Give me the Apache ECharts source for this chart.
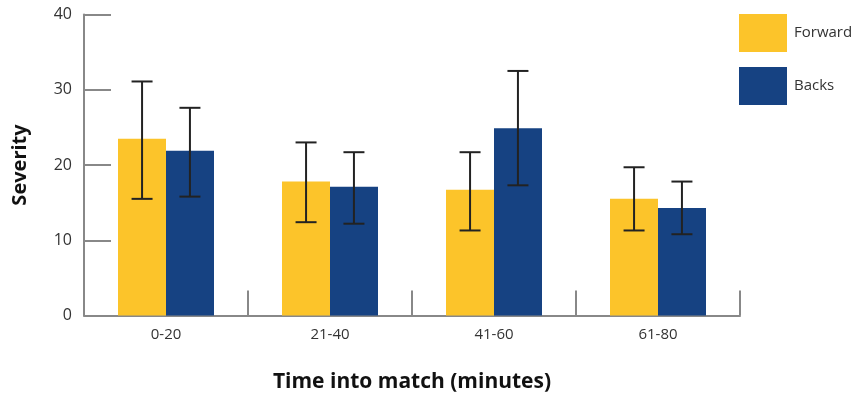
<!DOCTYPE html>
<html><head><meta charset="utf-8">
<script src="https://cdn.jsdelivr.net/npm/echarts@6/dist/echarts.min.js"></script>
<style>html,body{margin:0;padding:0;background:#fff}#c{width:857px;height:394px}</style>
</head><body><div id="c"></div>
<script>
var categories = ['0-20', '21-40', '41-60', '61-80'];
var forwardMean = [23.5, 17.8, 16.7, 15.5];
var forwardLow  = [15.5, 12.4, 11.3, 11.3];
var forwardHigh = [31.1, 23.0, 21.7, 19.7];
var backsMean = [21.9, 17.1, 24.9, 14.3];
var backsLow  = [15.8, 12.2, 17.3, 10.8];
var backsHigh = [27.6, 21.7, 32.5, 17.8];
var yTicks = [0, 10, 20, 30, 40];

var FONT = 'Open Sans';
var chart = echarts.init(document.getElementById('c'), null, {renderer: 'canvas'});

function errSeries(low, high, side) {
  return {
    type: 'custom',
    z: 10,
    data: categories.map(function (c, i) { return [i, low[i], high[i]]; }),
    renderItem: function (params, api) {
      var band = api.size([1, 0])[0];
      var off = side * band * 0.146;
      var lo = api.coord([api.value(0), api.value(1)]);
      var hi = api.coord([api.value(0), api.value(2)]);
      var x = lo[0] + off;
      var cap = 10.5;
      var st = {stroke: '#222', lineWidth: 2};
      return {type: 'group', children: [
        {type: 'line', shape: {x1: x, y1: hi[1], x2: x, y2: lo[1]}, style: st},
        {type: 'line', shape: {x1: x - cap, y1: hi[1], x2: x + cap, y2: hi[1]}, style: st},
        {type: 'line', shape: {x1: x - cap, y1: lo[1], x2: x + cap, y2: lo[1]}, style: st}
      ]};
    }
  };
}

chart.setOption({
  animation: false,
  textStyle: {fontFamily: FONT},
  grid: {left: 84, top: 14.5, width: 656, height: 301, containLabel: false, outerBoundsMode: 'none'},
  legend: {
    orient: 'vertical', left: 739, top: 14, padding: 0,
    itemWidth: 48, itemHeight: 38, itemGap: 15,
    icon: 'rect',
    textStyle: {fontFamily: FONT, fontSize: 15, color: '#333', padding: [0, 0, 0, 2]},
    data: ['Forward', 'Backs']
  },
  xAxis: {
    type: 'category', data: categories,
    name: 'Time into match (minutes)', nameLocation: 'middle', nameGap: 56,
    nameTextStyle: {fontFamily: FONT, fontSize: 21, fontWeight: 'bold', color: '#111'},
    axisLine: {lineStyle: {color: '#888', width: 2}},
    axisTick: {show: true, inside: true, length: 25, alignWithLabel: false, lineStyle: {color: '#888', width: 2}},
    axisLabel: {fontFamily: FONT, fontSize: 15, color: '#333', margin: 12}
  },
  yAxis: {
    type: 'value', min: 0, max: 40, interval: 10,
    name: 'Severity', nameLocation: 'middle', nameGap: 54, nameRotate: 90,
    nameTextStyle: {fontFamily: FONT, fontSize: 20, fontWeight: 'bold', color: '#111'},
    axisLine: {show: true, lineStyle: {color: '#888', width: 2}},
    axisTick: {show: true, inside: true, length: 27, lineStyle: {color: '#888', width: 2}},
    splitLine: {show: false},
    axisLabel: {fontFamily: FONT, fontSize: 16, color: '#333', margin: 12,
      formatter: function (v) { return yTicks.indexOf(v) >= 0 ? String(v) : ''; }}
  },
  series: [
    {name: 'Forward', type: 'bar', data: forwardMean, barWidth: 48, barGap: '0%',
      itemStyle: {color: '#FCC42A'}},
    {name: 'Backs', type: 'bar', data: backsMean, barWidth: 48, barGap: '0%',
      itemStyle: {color: '#164282'}},
    errSeries(forwardLow, forwardHigh, -1),
    errSeries(backsLow, backsHigh, 1)
  ]
});
</script></body></html>
